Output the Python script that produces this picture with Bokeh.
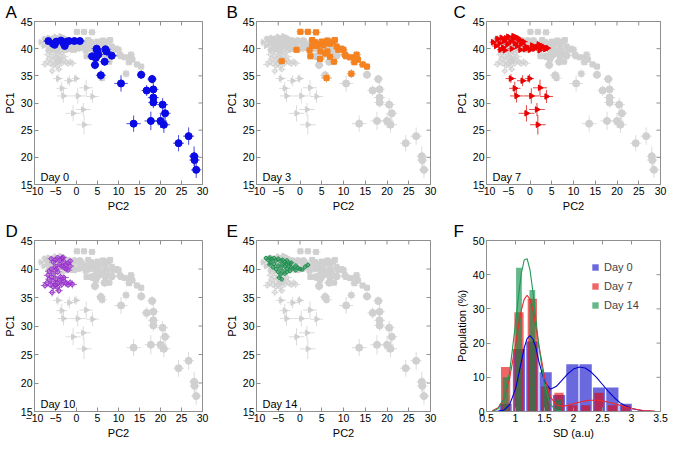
import math
from bokeh.plotting import figure
from bokeh.layouts import row, column
from bokeh.models import Label, FixedTicker, CustomJSTickFormatter, Legend, LegendItem
from bokeh.embed import file_html
from bokeh.resources import INLINE

FONT = "Liberation Sans"
AXC = "#8f8f8f"
GRAY_M = "#d0d0d0"
GRAY_E = "#dcdcdc"

# ---------------- data: PCA scatter (PC2 = x, PC1 = y) ----------------
d0_pc2 = [-6.7, -5.6, -5.2, -4.8, -3.7, -3.1, -2.8, -2.3, -1.8, -0.5, 0.8,
          4.8, 4.9, 6.9, 7.1, 3.7, 4.6, 5.2, 8.4, 6.7, 4.4, 5.8,
          10.6, 15.4, 18.0, 16.7, 18.3, 18.3, 18.3, 20.5, 21.1,
          13.6, 17.7, 20.0, 20.8, 24.3, 26.7, 28.0, 28.1, 28.5]
d0_pc1 = [41.4, 40.9, 40.7, 41.3, 41.5, 41.0, 40.5, 41.3, 41.4, 41.4, 41.4,
          40.0, 39.6, 39.9, 39.5, 38.6, 38.3, 38.9, 38.7, 37.6, 37.0, 35.1,
          33.6, 35.2, 34.4, 32.3, 32.5, 31.0, 30.1, 29.7, 28.1,
          26.2, 26.7, 26.7, 26.0, 22.6, 23.9, 20.2, 19.5, 17.7]
d0_xerr = [1.2, 1.0, 1.1, 1.2, 1.3, 1.1, 1.0, 1.2, 1.3, 1.2, 1.3,
           1.2, 1.1, 1.3, 1.2, 1.1, 1.0, 1.2, 1.3, 1.2, 1.0, 1.2,
           1.6, 1.0, 1.1, 1.2, 1.2, 1.3, 1.2, 1.3, 1.3,
           1.7, 1.5, 1.5, 1.5, 1.3, 1.3, 1.2, 1.2, 1.2]
d0_yerr = [0.4, 0.4, 0.5, 0.4, 0.4, 0.5, 0.5, 0.4, 0.4, 0.5, 0.4,
           0.6, 0.6, 0.5, 0.6, 0.6, 0.7, 0.6, 0.6, 0.7, 0.8, 0.9,
           1.5, 0.8, 0.8, 1.0, 1.5, 1.0, 1.0, 1.2, 1.5,
           1.5, 1.7, 1.3, 1.5, 1.5, 1.6, 1.8, 1.5, 1.5]

d3_pc2 = [0.1, 1.8, 3.7, 2.8, 3.5, 4.3, 5.0, 5.8, 6.3, 6.9,
          7.6, 8.0, 5.4, 4.0, 2.8, -0.8, 2.2, 4.7, 2.4, 4.6,
          5.8, 6.3, 6.9, 7.8, 9.5, 10.0, 10.3, 10.6, 11.5, 13.0,
          12.9, 13.3, 12.5, 14.4, 15.4, 11.8, 6.1, -4.2, 8.8, 8.4]
d3_pc1 = [43.1, 43.1, 43.0, 41.6, 41.2, 40.9, 41.3, 41.0, 41.5, 40.9,
          41.3, 41.6, 40.6, 40.5, 40.5, 39.8, 39.7, 39.5, 38.6, 38.1,
          39.1, 39.5, 38.5, 37.6, 40.0, 39.8, 38.9, 38.6, 38.4, 38.9,
          38.4, 38.0, 37.5, 37.1, 36.7, 35.4, 34.6, 37.7, 39.8, 40.4]
d3_xerr = [0.9, 0.8, 1.0, 0.9, 0.8, 0.9, 1.0, 0.8, 0.9, 1.0,
           0.9, 0.8, 0.9, 1.0, 0.8, 0.9, 1.0, 0.9, 0.8, 1.0,
           0.9, 0.8, 1.0, 0.9, 0.8, 0.9, 1.0, 0.8, 0.9, 1.0,
           0.9, 0.8, 1.0, 0.9, 0.8, 1.0, 1.2, 1.2, 0.9, 0.8]
d3_yerr = [0.4, 0.4, 0.4, 0.5, 0.5, 0.5, 0.4, 0.5, 0.5, 0.4,
           0.5, 0.5, 0.5, 0.4, 0.5, 0.5, 0.5, 0.6, 0.5, 0.6,
           0.5, 0.5, 0.6, 0.5, 0.5, 0.5, 0.6, 0.5, 0.5, 0.6,
           0.5, 0.6, 0.5, 0.6, 0.6, 0.8, 0.8, 0.6, 0.5, 0.5]

d7_pc2 = [-8.5, -7.8, -7.5, -7.0, -6.5, -6.2, -6.0, -5.5, -5.2, -5.0,
          -4.5, -4.2, -4.0, -3.5, -3.2, -3.0, -2.5, -2.2, -2.0, -1.5,
          -1.2, -1.0, -0.5, 0.0, 0.5, 1.0, 1.5, 2.0, 2.2, 2.5,
          3.0, 3.5, 4.0, -6.8, -5.8, -3.8, -2.8, -1.8,
          -4.4, -1.7, -0.1, -3.5, 2.3, -3.1, 0.3, 3.8, -0.8, 1.6, 1.8]
d7_pc1 = [41.2, 40.5, 41.8, 41.0, 42.0, 40.2, 41.4, 41.9, 40.8, 42.2,
          41.3, 40.0, 41.8, 41.0, 42.1, 40.5, 41.6, 39.8, 40.9, 41.3,
          39.9, 40.4, 40.1, 39.8, 40.6, 40.0, 40.3, 40.8, 39.7, 40.2,
          40.4, 39.9, 40.1, 39.8, 39.7, 42.3, 41.9, 41.0,
          34.5, 34.1, 34.5, 32.7, 32.8, 31.3, 31.3, 31.2, 28.1, 28.8, 26.0]
d7_xerr = [0.8, 0.9, 0.7, 0.8, 1.0, 0.8, 0.9, 0.7, 0.8, 1.0,
           0.8, 0.9, 0.7, 0.8, 1.0, 0.8, 0.9, 0.7, 0.8, 1.0,
           0.8, 0.9, 0.7, 0.8, 1.0, 0.8, 0.9, 0.7, 0.8, 1.0,
           0.8, 0.9, 0.7, 0.8, 1.0, 0.8, 0.9, 0.7,
           1.2, 1.3, 1.0, 1.3, 1.6, 1.5, 1.8, 1.5, 1.8, 1.8, 1.8]
d7_yerr = [0.5, 0.4, 0.6, 0.5, 0.4, 0.5, 0.6, 0.4, 0.5, 0.5,
           0.5, 0.4, 0.6, 0.5, 0.4, 0.5, 0.6, 0.4, 0.5, 0.5,
           0.5, 0.4, 0.6, 0.5, 0.4, 0.5, 0.6, 0.4, 0.5, 0.5,
           0.5, 0.4, 0.6, 0.5, 0.4, 0.5, 0.6, 0.4,
           0.8, 1.0, 0.8, 1.2, 1.5, 1.2, 1.4, 1.2, 1.5, 1.2, 1.8]

d10_pc2 = [-6.0, -5.5, -5.0, -4.5, -4.0, -3.5, -3.0, -2.5, -2.0, -1.5,
           -3.0, -2.5, -4.0, -3.5, -5.0, -6.0, -6.5, -5.5, -4.5, -2.0,
           -1.5, -3.2, -4.8,
           -7.5, -7.0, -6.5, -6.0, -5.5, -5.0, -4.5, -4.0, -3.5, -3.0,
           -2.5, -2.0, -1.5, -1.0, -5.5, -4.5, -5.8, -4.2, -6.2, -3.8,
           -5.0, -6.8, -3.0]
d10_pc1 = [41.8, 41.2, 41.6, 42.0, 41.5, 41.9, 41.3, 40.8, 41.0, 40.5,
           40.3, 40.0, 40.8, 40.5, 40.4, 40.0, 39.6, 39.2, 39.5, 39.8,
           41.4, 42.0, 40.0,
           37.1, 37.6, 38.2, 38.6, 37.8, 38.3, 37.5, 38.0, 37.3, 37.9,
           37.5, 37.2, 37.6, 37.3, 36.9, 36.8, 35.9, 36.2, 37.2, 38.6,
           37.2, 38.9, 38.5]
d10_xerr = [0.9, 1.0, 0.8, 0.9, 1.0, 0.8, 0.9, 1.0, 0.8, 0.9,
            1.0, 0.8, 0.9, 1.0, 0.8, 0.9, 1.0, 0.8, 0.9, 1.0,
            0.8, 0.9, 1.0,
            1.0, 1.1, 0.9, 1.0, 1.2, 0.9, 1.0, 1.1, 0.9, 1.0,
            1.2, 0.9, 1.0, 1.1, 0.9, 1.0, 0.8, 0.9, 1.0, 1.1,
            0.9, 1.0, 1.2]
d10_yerr = [0.5, 0.6, 0.5, 0.4, 0.5, 0.6, 0.5, 0.4, 0.5, 0.6,
            0.5, 0.4, 0.5, 0.6, 0.5, 0.4, 0.5, 0.6, 0.5, 0.4,
            0.5, 0.6, 0.5,
            0.6, 0.7, 0.6, 0.5, 0.6, 0.7, 0.6, 0.5, 0.6, 0.7,
            0.6, 0.5, 0.6, 0.7, 0.6, 0.8, 0.7, 0.6, 0.5, 0.6,
            0.7, 0.6, 0.5]

d14_pc2 = [-7.8, -7.3, -7.0, -6.5, -6.0, -5.5, -5.0, -4.5, -4.0, -3.5,
           -3.0, -2.5, -6.8, -6.0, -5.0, -4.5, -4.0, -3.5, -3.0, -2.5,
           -2.0, -1.5, -1.0, -0.5, 0.0, 0.5, 1.2, 1.8, -2.0, -1.0,
           -5.5, -5.0, -4.5, -4.0, -3.5, -4.8, -4.2, -3.0, -6.2, -7.0,
           -3.2, -2.3]
d14_pc1 = [41.9, 41.6, 42.0, 41.7, 41.9, 41.5, 41.8, 41.4, 41.6, 41.2,
           41.5, 41.0, 41.2, 40.9, 40.6, 40.2, 40.8, 40.5, 40.0, 40.6,
           40.3, 40.1, 39.8, 40.2, 40.0, 39.9, 40.4, 40.7, 41.1, 40.6,
           40.0, 39.5, 39.0, 39.6, 39.2, 38.5, 38.2, 39.5, 40.3, 40.8,
           40.9, 39.7]
d14_xerr = [0.6, 0.7, 0.5, 0.6, 0.7, 0.6, 0.5, 0.6, 0.7, 0.6,
            0.6, 0.7, 0.5, 0.6, 0.7, 0.6, 0.5, 0.6, 0.7, 0.6,
            0.6, 0.7, 0.5, 0.6, 0.7, 0.6, 0.5, 0.6, 0.7, 0.6,
            0.6, 0.7, 0.5, 0.6, 0.7, 0.6, 0.5, 0.6, 0.7, 0.6,
            0.6, 0.7]
d14_yerr = [0.4, 0.3, 0.4, 0.5, 0.4, 0.3, 0.4, 0.5, 0.4, 0.3,
            0.4, 0.3, 0.4, 0.5, 0.4, 0.3, 0.4, 0.5, 0.4, 0.3,
            0.4, 0.3, 0.4, 0.5, 0.4, 0.3, 0.4, 0.5, 0.4, 0.3,
            0.4, 0.3, 0.4, 0.5, 0.4, 0.3, 0.4, 0.5, 0.4, 0.3,
            0.4, 0.5]

pc2_ticks = [-10, -5, 0, 5, 10, 15, 20, 25, 30]
pc1_ticks = [15, 20, 25, 30, 35, 40, 45]

# ---------------- data: histogram panel F ----------------
bin_sd = [0.83, 1.06, 1.29, 1.52, 1.75, 1.98, 2.21, 2.44, 2.67, 2.90]
day0_pop = [2.3, 18.3, 20.5, 11.5, 4.8, 13.8, 13.8, 7.0, 7.0, 2.3]
day7_pop = [13.0, 29.0, 33.0, 7.3, 5.5, 1.8, 1.8, 5.5, 1.8, 1.8]
day14_pop = [10.0, 42.0, 35.5, 7.3, 3.5, 0.0, 0.0, 0.0, 0.0, 0.0]

fit_sd = [0.6, 0.7, 0.8, 0.9, 1.0, 1.05, 1.1, 1.15, 1.2, 1.25, 1.3, 1.35, 1.4,
          1.5, 1.6, 1.7, 1.8, 1.9, 2.0, 2.1, 2.2, 2.3, 2.4, 2.5, 2.6, 2.7,
          2.8, 2.9, 3.0, 3.1, 3.2, 3.3, 3.4]
fit_day0 = [0.0, 0.1, 0.4, 2.0, 6.6, 10.4, 14.5, 18.6, 21.3, 22.2, 21.2, 18.8, 14.8,
            8.7, 6.5, 7.3, 9.1, 11.0, 12.4, 13.0, 12.7, 11.6, 9.9, 7.9, 5.9, 4.1,
            2.6, 1.6, 0.9, 0.5, 0.2, 0.1, 0.0]
fit_day7 = [0.2, 1.1, 3.7, 9.8, 19.5, 24.9, 29.6, 32.8, 34.0, 32.8, 29.6, 25.0, 19.7,
            10.1, 4.3, 2.0, 1.5, 1.8, 2.3, 2.7, 3.1, 3.3, 3.3, 3.1, 2.7, 2.3,
            1.8, 1.3, 0.9, 0.6, 0.3, 0.2, 0.1]
fit14_sd = [0.6, 0.7, 0.8, 0.9, 1.0, 1.05, 1.1, 1.15, 1.2, 1.25, 1.3, 1.35, 1.4,
            1.5, 1.6, 1.7, 1.8]
fit_day14 = [0.1, 0.8, 3.7, 11.6, 25.7, 33.6, 40.3, 44.3, 44.7, 41.4, 35.1, 27.3, 19.5,
             7.7, 2.1, 0.4, 0.1]
sd_ticks = [0.5, 1, 1.5, 2, 2.5, 3, 3.5]
pop_ticks = [0, 10, 20, 30, 40, 50]

DAYS = [
    dict(name="Day 0", pc2=d0_pc2, pc1=d0_pc1, xe=d0_xerr, ye=d0_yerr,
         marker="circle", size=7, angle=0.0, fill=True, color="#0a0ae6"),
    dict(name="Day 3", pc2=d3_pc2, pc1=d3_pc1, xe=d3_xerr, ye=d3_yerr,
         marker="square", size=5, angle=0.0, fill=True, color="#f5821f"),
    dict(name="Day 7", pc2=d7_pc2, pc1=d7_pc1, xe=d7_xerr, ye=d7_yerr,
         marker="triangle", size=5.5, angle=-math.pi / 2, fill=True, color="#ee0000"),
    dict(name="Day 10", pc2=d10_pc2, pc1=d10_pc1, xe=d10_xerr, ye=d10_yerr,
         marker="circle", size=4, angle=0.0, fill=False, color="#9b30d0"),
    dict(name="Day 14", pc2=d14_pc2, pc1=d14_pc1, xe=d14_xerr, ye=d14_yerr,
         marker="circle", size=3.5, angle=0.0, fill=False, color="#1f9150"),
]

# layout: (width, left border, right border) per column; (height, top, bottom) per row
COLS = [(222, 28, 20), (230, 34, 22), (218, 34, 10)]
ROWS = [(214, 14, 30), (229, 26, 32)]
LETTER_OFFSET = [-29, -30, -33]
TICK_FS = "10.5px"


def make_fig(ci, ri, letter, xr, yr, xt, yt, xlabel, ylabel):
    w, lb, rb = COLS[ci]
    h, tb, bb = ROWS[ri]
    p = figure(width=w, height=h, x_range=xr, y_range=yr, title=letter,
               output_backend="svg", toolbar_location=None,
               min_border_left=lb, min_border_right=rb,
               min_border_top=tb, min_border_bottom=bb)
    p.title.text_font = FONT
    p.title.text_font_size = "17px"
    p.title.text_font_style = "normal"
    p.title.text_color = "black"
    p.title.align = "left"
    p.title.offset = LETTER_OFFSET[ci]
    p.title.standoff = 0
    p.title.text_line_height = 0.9
    p.grid.visible = False
    p.outline_line_color = AXC
    p.outline_line_width = 1
    p.xaxis.ticker = FixedTicker(ticks=xt)
    p.yaxis.ticker = FixedTicker(ticks=yt)
    p.xaxis.axis_label = xlabel
    p.yaxis.axis_label = ylabel
    for ax in p.axis:
        ax.axis_line_color = AXC
        ax.major_tick_line_color = AXC
        ax.major_tick_in = 4
        ax.major_tick_out = 0
        ax.minor_tick_line_color = None
        ax.major_label_text_font = FONT
        ax.major_label_text_font_size = TICK_FS
        ax.major_label_text_color = "black"
        ax.axis_label_text_font = FONT
        ax.axis_label_text_font_size = "11px"
        ax.axis_label_text_font_style = "normal"
        ax.axis_label_text_color = "black"
        ax.major_label_standoff = 2
        ax.axis_label_standoff = 2
    # inward ticks on the top and right frame edges (half clipped by the frame)
    p.scatter(x=xt, y=[yr[1]] * len(xt), marker="dash", angle=math.pi / 2,
              size=8, line_color=AXC, line_width=1)
    p.scatter(x=[xr[1]] * len(yt), y=yt, marker="dash", size=8,
              line_color=AXC, line_width=1)
    return p


def draw_errorbars(p, d, color, alpha):
    x0 = [x - e for x, e in zip(d["pc2"], d["xe"])]
    x1 = [x + e for x, e in zip(d["pc2"], d["xe"])]
    y0 = [y - e for y, e in zip(d["pc1"], d["ye"])]
    y1 = [y + e for y, e in zip(d["pc1"], d["ye"])]
    p.segment(x0=x0, y0=d["pc1"], x1=x1, y1=d["pc1"], line_color=color,
              line_width=1, line_alpha=alpha)
    p.segment(x0=d["pc2"], y0=y0, x1=d["pc2"], y1=y1, line_color=color,
              line_width=1, line_alpha=alpha)


def draw_markers(p, d, color):
    if d["fill"]:
        p.scatter(x=d["pc2"], y=d["pc1"], marker=d["marker"], size=d["size"],
                  angle=d["angle"], fill_color=color, line_color=color)
    else:
        p.scatter(x=d["pc2"], y=d["pc1"], marker=d["marker"], size=d["size"],
                  angle=d["angle"], fill_color=None, line_color=color, line_width=1)


PANELS = [("A", 0, 0, 0), ("B", 1, 1, 0), ("C", 2, 2, 0), ("D", 3, 0, 1), ("E", 4, 1, 1)]
figs = {}
for letter, di, ci, ri in PANELS:
    p = make_fig(ci, ri, letter, (-10, 30), (15, 45), pc2_ticks, pc1_ticks, "PC2", "PC1")
    for d in DAYS:
        draw_errorbars(p, d, GRAY_E, 1.0)
    for d in DAYS:
        draw_markers(p, d, GRAY_M)
    d = DAYS[di]
    draw_errorbars(p, d, d["color"], 0.65)
    draw_markers(p, d, d["color"])
    p.add_layout(Label(x=6, y=8, x_units="screen", y_units="screen", text=d["name"],
                       text_font=FONT, text_font_size="11px",
                       text_baseline="alphabetic", text_color="black"))
    figs[letter] = p

# ---------------- panel F ----------------
pf = make_fig(2, 1, "F", (0.5, 3.5), (0, 50), sd_ticks, pop_ticks, "SD (a.u)", "Population (%)")
pf.xaxis.formatter = CustomJSTickFormatter(code="return String(tick);")
b0 = pf.vbar(x=bin_sd, width=0.21, top=day0_pop, bottom=0, fill_color="#1a1acc",
             fill_alpha=0.65, line_color=None)
b7 = pf.vbar(x=bin_sd, width=0.16, top=day7_pop, bottom=0, fill_color="#e60000",
             fill_alpha=0.6, line_color=None)
b14 = pf.vbar(x=bin_sd, width=0.10, top=day14_pop, bottom=0, fill_color="#0a8a45",
              fill_alpha=0.62, line_color=None)
pf.line(fit_sd, fit_day0, line_color="#0000d0", line_width=1.1)
pf.line(fit_sd, fit_day7, line_color="#ee2a2a", line_width=1.1)
pf.line(fit14_sd, fit_day14, line_color="#1f9a55", line_width=1.1)
legend = Legend(items=[LegendItem(label="Day 0", renderers=[b0]),
                       LegendItem(label="Day 7", renderers=[b7]),
                       LegendItem(label="Day 14", renderers=[b14])],
                location="top_right", border_line_color=None, background_fill_alpha=0,
                glyph_width=8, glyph_height=8, label_height=11, label_standoff=5,
                spacing=7, padding=2, margin=0,
                label_text_font=FONT, label_text_font_size="11px")
pf.add_layout(legend)
legend.location = (105, 100)

layout = column(row(figs["A"], figs["B"], figs["C"]),
                row(figs["D"], figs["E"], pf))

with open("out.html", "w") as f:
    f.write(file_html(layout, INLINE))
